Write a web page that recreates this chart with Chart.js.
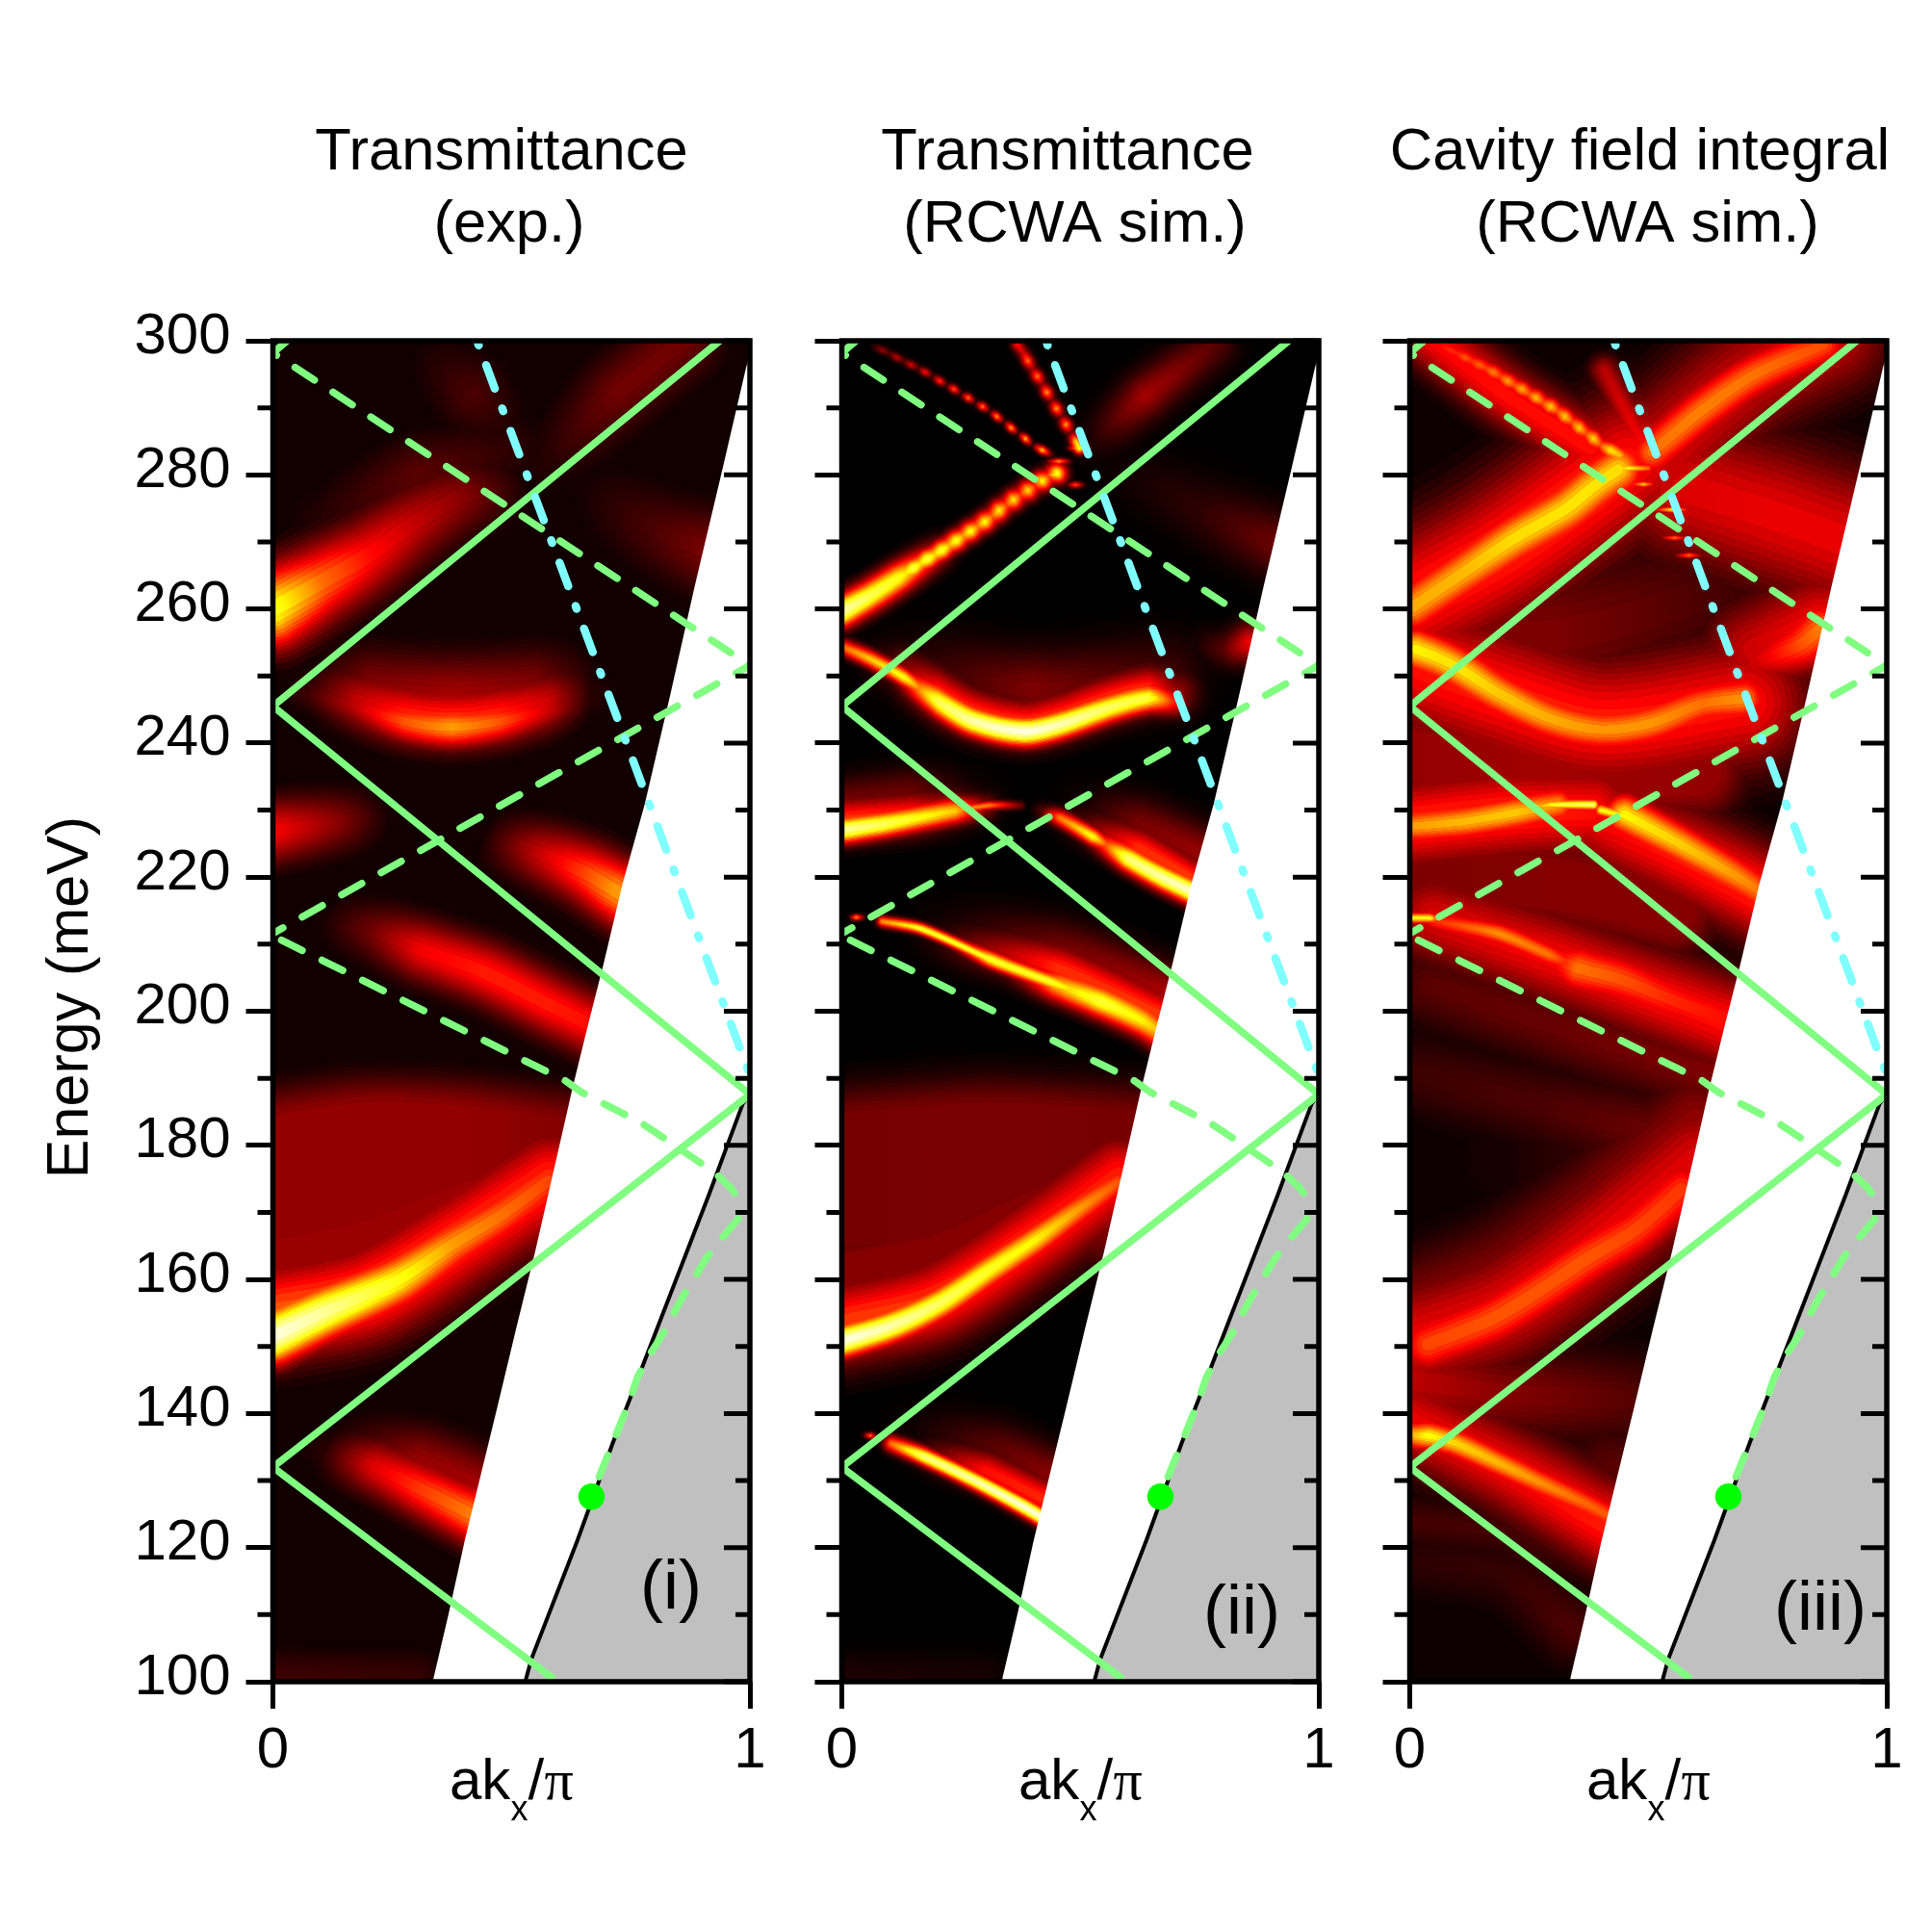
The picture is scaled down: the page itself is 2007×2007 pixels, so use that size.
<!DOCTYPE html>
<html>
<head>
<meta charset="utf-8">
<title>Photonic band maps</title>
<script src="https://cdn.jsdelivr.net/npm/chart.js@4/dist/chart.umd.min.js"></script>
<style>
  html, body { margin: 0; background: #fff; }
  canvas { position: absolute; top: 0; }
</style>
</head>
<body>
<canvas id="p1"></canvas>
<canvas id="p2"></canvas>
<canvas id="p3"></canvas>
<script>
// axis ticks
const energyTicks = [100, 120, 140, 160, 180, 200, 220, 240, 260, 280, 300];
const energyMinor = [110, 130, 150, 170, 190, 210, 230, 250, 270, 290];
const kTicks = [0, 1];

// edge of the measured/simulated map (white wedge starts here)
const mapEdgeK = [0.335, 0.368, 0.402, 0.47, 0.51, 0.55, 0.604, 0.628, 0.659, 0.693, 0.733, 0.78, 0.834, 0.883, 0.943, 0.992, 1];
const mapEdgeE = [100, 110, 121, 140.8, 152.7, 164.2, 181, 188.5, 197.5, 207, 219, 231, 247.5, 263, 281, 296, 298];

// light line, grey below it
const lightK = [0.529, 0.542, 0.638, 0.712, 0.78, 0.847, 0.914, 0.985, 1];
const lightE = [100, 103.4, 121, 135.5, 148, 160.3, 172.6, 186.2, 187.6];

// solid folded bands
const bandAK = [0.937, 0, 1, 0, 0.589];
const bandAE = [300, 245.5, 187.6, 132, 100.4];

// dashed folded bands
const dashUpK = [0.03, 0, 1];
const dashUpE = [300, 298.2, 251.6];
const dashRiseK = [0, 1];
const dashRiseE = [211.6, 251.6];
const dashLowK = [0.018, 0.614, 0.645, 0.773, 0.803, 0.925, 0.958, 0.995];
const dashLowE = [210.6, 189.6, 188, 183.3, 181.9, 176, 173.8, 170.4];
const dashTailK = [0.975, 0.935, 0.907, 0.881, 0.86, 0.836, 0.819, 0.789, 0.765, 0.742, 0.712, 0.679];
const dashTailE = [169, 165.6, 163, 159.9, 157.5, 154.4, 152, 148.7, 145.5, 140.8, 135.5, 129.7];

// cyan line
const cyanK = [0.428, 1];
const cyanE = [300, 190.5];

// green dot
const dotK = [0.668];
const dotE = [127.6];

// ridges of the colour maps: position and brightness (0..1) read along each one
const expRidges = [
  { k: [0, 0.1, 0.2, 0.3, 0.4, 0.45, 0.55], e: [260, 264, 268, 273, 277, 278, 280], v: [0.74, 0.5, 0.36, 0.26, 0.18, 0.12, 0] },
  { k: [0.3, 0.42, 0.52], e: [300, 292, 284], v: [0.02, 0.1, 0.02] },
  { k: [0.58, 0.72, 0.86], e: [282, 292, 300], v: [0.05, 0.15, 0.15] },
  { k: [0.65, 0.8, 0.94], e: [278, 272, 268], v: [0.03, 0.1, 0.18] },
  { k: [0.1, 0.3, 0.5], e: [273, 280, 284], v: [0.05, 0.12, 0.06] },
  { k: [0.073, 0.174, 0.275, 0.376, 0.477, 0.578, 0.666], e: [247.4, 245.5, 243.2, 242.4, 243.2, 245, 246.5], v: [0.08, 0.26, 0.46, 0.56, 0.46, 0.28, 0.05] },
  { k: [0.073, 0.174, 0.275, 0.376, 0.477, 0.578, 0.666], e: [248, 246.3, 244.3, 243.6, 244.3, 246, 247.5], v: [0.05, 0.26, 0.38, 0.4, 0.38, 0.28, 0.05] },
  { k: [0.08, 0.2, 0.38, 0.55, 0.68], e: [249, 248, 247, 248, 249], v: [0.03, 0.18, 0.22, 0.18, 0.03] },
  { k: [0, 0.14, 0.24], e: [226.9, 228.3, 229.3], v: [0.34, 0.18, 0.03] },
  { k: [0.443, 0.544, 0.645, 0.713, 0.74], e: [226.4, 224, 221, 218.2, 217], v: [0.03, 0.24, 0.42, 0.55, 0.56] },
  { k: [0.107, 0.208, 0.309, 0.443, 0.578, 0.68], e: [214, 212, 209.2, 205.8, 201, 197.5], v: [0.03, 0.15, 0.33, 0.38, 0.38, 0.36] },
  { k: [0, 0.107, 0.262, 0.376, 0.477, 0.578], e: [151.5, 155.1, 159.9, 165.2, 169.5, 174.7], v: [1, 0.9, 0.72, 0.56, 0.5, 0.44] },
  { k: [0, 0.2, 0.4, 0.58], e: [155, 158, 166.5, 175], v: [0.46, 0.46, 0.42, 0.4] },
  { k: [0, 0.2, 0.4, 0.6], e: [175, 177, 176.5, 175], v: [0.2, 0.2, 0.2, 0.18] },
  { k: [0, 0.2, 0.42], e: [163, 166, 172], v: [0.21, 0.21, 0.21] },
  { k: [0.107, 0.208, 0.309, 0.43], e: [134.6, 132.2, 128.8, 124.5], v: [0.05, 0.3, 0.42, 0.53] },
  { k: [0.12, 0.3, 0.44], e: [136, 133, 129], v: [0.03, 0.2, 0.22] },
  { k: [0, 0.3], e: [101, 101], v: [0.08, 0.07] }
];
// gaussian half width in px, or [half width, flat half width]
const expSpread = [40, 42, 40, 45, 40, 22, 32, 44, 33, 33, 32, 28, 50, [38, 58], [26, 14], 30, 38, 30];

const simRidges = [
  { k: [0, 0.06, 0.12, 0.2], e: [259.6, 262, 264.7, 268.3], v: [0.92, 0.8, 0.72, 0.3] },
  { k: [0.12, 0.135, 0.15, 0.165, 0.18, 0.195, 0.21, 0.225, 0.24, 0.255, 0.27, 0.285, 0.3, 0.315, 0.33, 0.345, 0.36, 0.375, 0.39, 0.405, 0.42, 0.435, 0.45],
    e: [264.7, 265.4, 266.1, 266.8, 267.5, 268.1, 268.8, 269.5, 270.2, 270.9, 271.6, 272.3, 273, 273.8, 274.7, 275.5, 276.3, 277, 277.7, 278.4, 279.1, 279.7, 280.2],
    v: [0.72, 0.66, 0.78, 0.64, 0.78, 0.62, 0.76, 0.58, 0.74, 0.54, 0.72, 0.5, 0.7, 0.46, 0.68, 0.42, 0.66, 0.4, 0.64, 0.38, 0.7, 0.42, 0.72] },
  { k: [0.07, 0.085, 0.1, 0.115, 0.13, 0.145, 0.16, 0.175, 0.19, 0.205, 0.22, 0.235, 0.25, 0.265, 0.28, 0.295, 0.31, 0.325, 0.34, 0.355, 0.37, 0.385, 0.4, 0.42, 0.44],
    e: [299.1, 298.6, 298.1, 297.5, 297, 296.4, 295.9, 295.3, 294.7, 294, 293.4, 292.8, 292.1, 291.5, 290.8, 290.2, 289.5, 288.7, 287.9, 287, 286.2, 285.4, 284.5, 283.7, 282.9],
    v: [0.08, 0.2, 0.1, 0.26, 0.1, 0.3, 0.1, 0.36, 0.08, 0.42, 0.08, 0.46, 0.06, 0.5, 0.06, 0.52, 0.06, 0.55, 0.06, 0.58, 0.06, 0.6, 0.06, 0.62, 0.1] },
  { k: [0.368, 0.38, 0.39, 0.4, 0.41, 0.42, 0.43, 0.44, 0.45, 0.46, 0.47, 0.48, 0.49, 0.498],
    e: [299.4, 298.2, 297, 295.8, 294.7, 293.5, 292.3, 291.1, 289.9, 288.7, 287.5, 286.3, 285.1, 284],
    v: [0.36, 0.28, 0.48, 0.2, 0.5, 0.18, 0.55, 0.15, 0.55, 0.15, 0.55, 0.15, 0.62, 0.72] },
  { k: [0.426, 0.455, 0.483], e: [282, 282, 282], v: [0.05, 0.55, 0.05] },
  { k: [0.41, 0.445, 0.476], e: [280, 280, 280], v: [0.05, 0.7, 0.05] },
  { k: [0.47, 0.49, 0.51], e: [278.5, 278.5, 278.5], v: [0.05, 0.45, 0.05] },
  { k: [0.47, 0.5, 0.525], e: [284, 284, 284], v: [0.05, 0.78, 0.05] },
  { k: [0.527, 0.635, 0.779], e: [284.7, 291.7, 299.4], v: [0.04, 0.22, 0.12] },
  { k: [0.585, 0.75, 0.9], e: [281, 275, 270], v: [0.02, 0.06, 0.14] },
  { k: [0.743, 0.801, 0.851], e: [254.6, 254, 255], v: [0.03, 0.12, 0.32] },
  { k: [0.007, 0.058, 0.13, 0.2], e: [254.2, 252.6, 249.8, 246.2], v: [0.5, 0.62, 0.72, 0.3] },
  { k: [0.1, 0.202, 0.274, 0.382, 0.455, 0.563, 0.642, 0.693], e: [251, 246.2, 243.3, 241.7, 242.7, 245.3, 246.7, 246.2], v: [0.1, 0.8, 0.92, 1, 0.94, 0.82, 0.77, 0.4] },
  { k: [0.1, 0.2, 0.274, 0.382, 0.455, 0.563, 0.642, 0.7], e: [251.5, 247.2, 244.5, 242.9, 243.9, 246.5, 247.8, 247.5], v: [0.1, 0.42, 0.42, 0.42, 0.42, 0.42, 0.42, 0.2] },
  { k: [0.12, 0.4, 0.68], e: [252, 248, 250.5], v: [0.03, 0.17, 0.08] },
  { k: [0, 0.094, 0.238, 0.3], e: [227, 228, 229.9, 230.5], v: [0.9, 0.8, 0.62, 0.2] },
  { k: [0.2, 0.31, 0.375], e: [229.4, 230.7, 230.7], v: [0.6, 0.52, 0.15] },
  { k: [0, 0.15, 0.3], e: [228.5, 229.5, 231], v: [0.42, 0.38, 0.05] },
  { k: [0, 0.15, 0.28], e: [231, 232.5, 233], v: [0.16, 0.14, 0.02] },
  { k: [0.419, 0.455, 0.527, 0.58], e: [229.9, 228.9, 226, 223.7], v: [0.1, 0.5, 0.72, 0.2] },
  { k: [0.5, 0.56, 0.6, 0.671, 0.735], e: [227.2, 224.6, 222.8, 220, 217.8], v: [0.05, 0.5, 0.85, 0.92, 0.96] },
  { k: [0.5, 0.62, 0.74], e: [228, 224.5, 219.5], v: [0.1, 0.4, 0.42] },
  { k: [0.5, 0.62, 0.74], e: [231, 228, 224], v: [0.02, 0.16, 0.2] },
  { k: [0.015, 0.03, 0.05], e: [214, 214, 214], v: [0.05, 0.55, 0.05] },
  { k: [0.085, 0.166, 0.31, 0.4], e: [213.4, 212.3, 207.8, 205], v: [0.55, 0.75, 0.74, 0.2] },
  { k: [0.2, 0.31, 0.441, 0.542], e: [211.5, 207.8, 204.3, 201.5], v: [0.06, 0.74, 0.74, 0.5] },
  { k: [0.33, 0.39, 0.45, 0.542, 0.63, 0.68], e: [207.2, 205.6, 204, 201.5, 198.6, 196.2], v: [0.05, 0.3, 0.6, 0.76, 0.68, 0.56] },
  { k: [0.2, 0.45, 0.68], e: [211, 206.5, 199], v: [0.05, 0.4, 0.42] },
  { k: [0.2, 0.45, 0.67], e: [213, 209.5, 203], v: [0.02, 0.15, 0.22] },
  { k: [0, 0.105, 0.206, 0.307, 0.408, 0.495, 0.58], e: [150.8, 153.1, 156.5, 161.3, 166, 170.4, 174.5], v: [1, 0.92, 0.82, 0.74, 0.68, 0.56, 0.46] },
  { k: [0, 0.2, 0.4, 0.58], e: [153.5, 157, 166, 175.5], v: [0.42, 0.42, 0.4, 0.38] },
  { k: [0, 0.3, 0.6], e: [175, 176.5, 175.5], v: [0.16, 0.165, 0.16] },
  { k: [0, 0.2, 0.42], e: [161, 164, 171], v: [0.18, 0.18, 0.18] },
  { k: [0.105, 0.172, 0.273, 0.374, 0.42], e: [135.5, 133.6, 130.2, 126.4, 124.5], v: [0.5, 0.85, 0.92, 0.98, 0.98] },
  { k: [0.044, 0.06, 0.075], e: [136.8, 136.7, 136.6], v: [0.05, 0.5, 0.05] },
  { k: [0.15, 0.3, 0.43], e: [135, 131.5, 127], v: [0.03, 0.36, 0.4] },
  { k: [0.15, 0.32, 0.43], e: [138, 135, 131], v: [0.02, 0.12, 0.18] },
  { k: [0, 0.3], e: [101, 101], v: [0.04, 0.03] }
];
const simSpread = [16, 11, 4.5, 6.5, 3.5, 3.5, 3.5, 3.5, 24, 34, 20, 9, 15, 24, 40, 14, 5, 22, 26, 9, 13, 20, 28, 3.5, 6, 9, 17, 24, 30, 17, 42, [36, 62], [24, 14], 9, 3.5, 20, 28, 24];

const fieldRidges = [
  { k: [0.006, 0.114, 0.221, 0.329, 0.386, 0.437], e: [260.3, 265.5, 270.6, 275, 278.3, 280.8], v: [0.58, 0.6, 0.65, 0.66, 0.66, 0.65] },
  { k: [0, 0.2, 0.38, 0.46], e: [261, 269, 278, 282], v: [0.38, 0.4, 0.4, 0.36] },
  { k: [0.07, 0.085, 0.1, 0.115, 0.13, 0.145, 0.16, 0.175, 0.19, 0.205, 0.22, 0.235, 0.25, 0.265, 0.28, 0.295, 0.31, 0.325, 0.34, 0.355, 0.37, 0.385, 0.4, 0.42, 0.44],
    e: [299.1, 298.6, 298.1, 297.5, 297, 296.4, 295.9, 295.3, 294.7, 294, 293.4, 292.8, 292.1, 291.5, 290.8, 290.2, 289.5, 288.7, 287.9, 287, 286.2, 285.4, 284.5, 283.7, 282.9],
    v: [0.36, 0.4, 0.38, 0.46, 0.4, 0.48, 0.42, 0.52, 0.42, 0.56, 0.44, 0.58, 0.44, 0.6, 0.44, 0.62, 0.44, 0.62, 0.44, 0.62, 0.44, 0.64, 0.44, 0.66, 0.6] },
  { k: [0.05, 0.2, 0.38], e: [300, 292, 284], v: [0.34, 0.36, 0.36] },
  { k: [0.408, 0.487], e: [295.6, 284.7], v: [0.25, 0.34] },
  { k: [0.508, 0.616, 0.724, 0.867], e: [283.4, 289.8, 295, 299.4], v: [0.5, 0.52, 0.5, 0.45] },
  { k: [0.52, 0.7, 0.88], e: [283, 294, 301], v: [0.3, 0.28, 0.28] },
  { k: [0.58, 0.76, 0.92], e: [278, 274, 270], v: [0.3, 0.32, 0.32] },
  { k: [0, 0.3, 0.62], e: [257, 256, 262], v: [0.17, 0.17, 0.1] },
  { k: [0.724, 0.817, 0.86], e: [252, 254.6, 257], v: [0.28, 0.45, 0.52] },
  { k: [0.72, 0.86], e: [254, 258], v: [0.28, 0.34] },
  { k: [0.013, 0.063, 0.114, 0.185, 0.293, 0.4, 0.508, 0.616, 0.7], e: [254, 252.6, 250.7, 247.5, 243.7, 242, 243, 245.9, 246.6], v: [0.68, 0.66, 0.66, 0.62, 0.58, 0.55, 0.55, 0.5, 0.55] },
  { k: [0, 0.2, 0.4, 0.7], e: [252, 247, 243, 246], v: [0.36, 0.38, 0.38, 0.36] },
  { k: [0.006, 0.114, 0.221, 0.31], e: [227.6, 228.3, 229.6, 230.8], v: [0.56, 0.6, 0.62, 0.55] },
  { k: [0.24, 0.3, 0.385], e: [230.3, 230.8, 230.8], v: [0.4, 0.72, 0.84] },
  { k: [0, 0.2, 0.38], e: [228, 229.5, 230], v: [0.4, 0.4, 0.36] },
  { k: [0.401, 0.473], e: [230, 228.6], v: [0.72, 0.68] },
  { k: [0.45, 0.58, 0.688, 0.74], e: [229.4, 224.4, 220, 217.6], v: [0.68, 0.62, 0.55, 0.5] },
  { k: [0.42, 0.58, 0.75], e: [228, 223, 217], v: [0.34, 0.38, 0.4] },
  { k: [0.006, 0.042, 0.06], e: [213.9, 213.9, 213.7], v: [0.72, 0.72, 0.4] },
  { k: [0.05, 0.185, 0.293, 0.36], e: [213.5, 211.6, 208.4, 206.2], v: [0.4, 0.54, 0.5, 0.3] },
  { k: [0.25, 0.35, 0.441, 0.542, 0.67], e: [209.5, 206.5, 204.8, 201.9, 198.5], v: [0.1, 0.5, 0.46, 0.4, 0.36] },
  { k: [0.05, 0.3, 0.68], e: [214, 208, 198], v: [0.3, 0.34, 0.36] },
  { k: [0.04, 0.3, 0.66], e: [204, 198, 190], v: [0.12, 0.14, 0.17] },
  { k: [0, 0.28, 0.6], e: [191, 186, 180], v: [0.08, 0.1, 0.16] },
  { k: [0.037, 0.172, 0.273, 0.374, 0.475, 0.57], e: [150.3, 154.1, 158.4, 163.2, 167.5, 173.5], v: [0.44, 0.46, 0.46, 0.46, 0.44, 0.42] },
  { k: [0, 0.2, 0.4, 0.6], e: [151, 156, 166, 178], v: [0.32, 0.32, 0.32, 0.3] },
  { k: [0, 0.2, 0.4, 0.6], e: [156, 162, 172, 184], v: [0.17, 0.17, 0.18, 0.19] },
  { k: [0.01, 0.037, 0.091, 0.172, 0.273, 0.374, 0.42], e: [136.8, 136.7, 135.7, 133.1, 129.7, 126.4, 124.6], v: [0.6, 0.7, 0.64, 0.6, 0.54, 0.48, 0.46] },
  { k: [0, 0.2, 0.42], e: [139, 132, 123], v: [0.32, 0.34, 0.38] },
  { k: [0, 0.2, 0.45], e: [145, 143, 142], v: [0.26, 0.18, 0.12] },
  { k: [0.02, 0.2, 0.34], e: [118, 116, 108], v: [0.06, 0.07, 0.1] },
  { k: [0.25, 0.34, 0.42], e: [122, 122, 132], v: [0.09, 0.12, 0.12] },
  { k: [0, 0.25], e: [124, 122], v: [0.09, 0.09] },
  { k: [0.2, 0.45, 0.62], e: [178, 178, 178], v: [0.03, 0.09, 0.17] },
  { k: [0, 0.3, 0.6], e: [238, 236, 236], v: [0.2, 0.22, 0.2] },
  { k: [0, 0.3, 0.55], e: [220, 219, 215], v: [0.17, 0.18, 0.18] },
  { k: [0.5, 0.55, 0.6], e: [274.8, 274.8, 274.8], v: [0.1, 0.72, 0.1] },
  { k: [0.52, 0.555, 0.59], e: [270.6, 270.6, 270.6], v: [0.1, 0.5, 0.1] },
  { k: [0.55, 0.585, 0.62], e: [268, 268, 268], v: [0.1, 0.5, 0.1] },
  { k: [0.45, 0.49, 0.525], e: [278.6, 278.6, 278.6], v: [0.1, 0.66, 0.1] },
  { k: [0.42, 0.46, 0.5], e: [281, 281, 281], v: [0.5, 0.72, 0.5] }
];
const fieldSpread = [28, 70, 10, 32, 16, 26, 62, 76, 84, 30, 54, 24, 68, 20, 6, 48, 7, 22, 48, 6, 13, 28, 48, 46, 46, 32, 60, 54, 16, 46, 52, 40, 50, 30, [40, 20], [36, 20], [34, 20], 3.5, 3.5, 3.5, 3.5, 5];

// titles and panel labels
const panelTitles = [['Transmittance', '(exp.)'], ['Transmittance', '(RCWA sim.)'], ['Cavity field integral', '(RCWA sim.)']];
const panelNames = ['(i)', '(ii)', '(iii)'];

const FONT = '"Liberation Sans", Arial, sans-serif';
const GREEN = '#80ff80';
const CYAN = '#80ffff';
const LEVELS = [0.04, 0.08, 0.13, 0.18, 0.24, 0.3, 0.36, 0.43, 0.5, 0.57, 0.64, 0.72, 0.8, 0.88, 0.96];

const pairs = (ks, es) => ks.map((k, i) => ({ x: k, y: es[i] }));

function hot(t) {
  const c = (v) => Math.round(255 * Math.max(0, Math.min(1, v)));
  return `rgb(${c(t * 3)},${c(t * 3 - 1)},${c(t * 3 - 2)})`;
}

// colour along a ridge: gradient stops follow the colour map between read points
function ridgeStroke(chart, r, f) {
  if (!chart.chartArea) return '#000';
  const xs = r.k.map((k) => chart.scales.x.getPixelForValue(k));
  const ys = r.e.map((e) => chart.scales.y.getPixelForValue(e));
  const n = xs.length - 1;
  const dx = xs[n] - xs[0], dy = ys[n] - ys[0];
  const len = dx * dx + dy * dy;
  const g = chart.ctx.createLinearGradient(xs[0], ys[0], xs[n], ys[n]);
  const off = xs.map((x, i) => Math.max(0, Math.min(1, ((x - xs[0]) * dx + (ys[i] - ys[0]) * dy) / len)));
  for (let i = 0; i < n; i++) {
    for (let s = 0; s < 8; s++) {
      const u = s / 8;
      g.addColorStop(off[i] + (off[i + 1] - off[i]) * u, hot((r.v[i] + (r.v[i + 1] - r.v[i]) * u) * f));
    }
  }
  g.addColorStop(off[n], hot(r.v[n] * f));
  return g;
}

function heatDatasets(ridges, spread) {
  return ridges.flatMap((r, i) => LEVELS.map((f) => {
    const [w, flat] = [].concat(spread[i], 0);
    return {
      heat: true,
      order: 100,
      clip: 0,
      data: pairs(r.k, r.e),
      tension: 0.3,
      pointRadius: 0,
      borderCapStyle: 'round',
      borderJoinStyle: 'round',
      borderWidth: 2 * (flat + w * Math.sqrt(-Math.log(f))),
      borderColor: (c) => ridgeStroke(c.chart, r, f)
    };
  }));
}

function overlayDatasets() {
  const line = (ks, es, color, width, dash, offset, order) => ({
    order, clip: 0, data: pairs(ks, es), tension: 0, pointRadius: 0,
    borderColor: color, borderWidth: width, borderDash: dash || [], borderDashOffset: offset || 0,
    borderCapStyle: dash ? 'round' : 'butt', borderJoinStyle: 'round', fill: false
  });
  return [
    { order: 50, clip: 0, data: pairs(mapEdgeK, mapEdgeE), tension: 0, pointRadius: 0, borderWidth: 0, borderColor: '#fff', backgroundColor: '#fff', fill: 'start' },
    { order: 40, clip: 0, data: pairs(lightK, lightE), tension: 0, pointRadius: 0, borderWidth: 4, borderColor: '#000', backgroundColor: '#c0c0c0', fill: 'start' },
    line(dashUpK, dashUpE, GREEN, 7.5, [24, 23], 0, 30),
    line(dashRiseK, dashRiseE, GREEN, 7.5, [24, 23], 12, 30),
    line(dashLowK, dashLowE, GREEN, 7.5, [24, 23], 0, 30),
    line(dashTailK, dashTailE, GREEN, 7.5, [24, 23], 0, 30),
    line(bandAK, bandAE, GREEN, 7.5, null, 0, 29),
    line(cyanK, cyanE, CYAN, 8.5, [26, 22, 3, 22], 46, 20),
    { order: 10, clip: false, data: pairs(dotK, dotE), showLine: false, pointRadius: 13.7, pointBackgroundColor: '#00ff00', pointBorderWidth: 0 }
  ];
}

// lighten keeps the brightest ridge at each pixel, like a max of the field
const lightenHeat = {
  id: 'lightenHeat',
  beforeDatasetsDraw(chart) {
    const a = chart.chartArea;
    chart.ctx.fillStyle = chart.options.plugins.lightenHeat.base;
    chart.ctx.fillRect(a.left, a.top, a.right - a.left, a.bottom - a.top);
  },
  beforeDatasetDraw(chart, args) {
    if (chart.data.datasets[args.index].heat) chart.ctx.globalCompositeOperation = 'lighten';
  },
  afterDatasetDraw(chart) {
    chart.ctx.globalCompositeOperation = 'source-over';
  }
};

// frame, minor ticks and the inward ticks on the right side
const frameTicks = {
  id: 'frameTicks',
  afterDatasetsDraw(chart) {
    const { ctx, chartArea: a, scales: { y } } = chart;
    ctx.save();
    ctx.strokeStyle = '#000';
    ctx.lineWidth = 5.5;
    ctx.strokeRect(a.left, a.top, a.right - a.left, a.bottom - a.top);
    ctx.lineWidth = 5;
    ctx.beginPath();
    energyTicks.forEach((e) => {
      const p = y.getPixelForValue(e);
      ctx.moveTo(a.right - 27, p);
      ctx.lineTo(a.right, p);
    });
    energyMinor.forEach((e) => {
      const p = y.getPixelForValue(e);
      ctx.moveTo(a.left - 16, p);
      ctx.lineTo(a.left, p);
      ctx.moveTo(a.right - 15, p);
      ctx.lineTo(a.right, p);
    });
    ctx.stroke();
    ctx.restore();
  }
};

const panelText = {
  id: 'panelText',
  afterDraw(chart) {
    const { ctx, chartArea: a } = chart;
    const o = chart.options.plugins.panelText;
    ctx.save();
    ctx.fillStyle = '#000';
    ctx.textBaseline = 'alphabetic';
    ctx.textAlign = 'center';
    ctx.font = `61.5px ${FONT}`;
    ctx.fillText(o.title[0], o.titleX[0], 176);
    ctx.fillText(o.title[1], o.titleX[1], 251);
    ctx.font = `72px ${FONT}`;
    ctx.fillText(o.name, o.nameX, o.nameY);
    ctx.textAlign = 'left';
    ctx.font = `60px ${FONT}`;
    ctx.fillText('ak', a.left + 183.5, 1869);
    ctx.fillText('/', a.left + 265, 1869);
    ctx.font = '36px ' + FONT;
    ctx.fillText('x', a.left + 247, 1891);
    ctx.font = '60px "Liberation Serif", serif';
    ctx.fillText('\u03c0', a.left + 282, 1869);
    if (o.yTitle) {
      ctx.translate(91, 1036);
      ctx.rotate(-Math.PI / 2);
      ctx.textAlign = 'center';
      ctx.font = `61px ${FONT}`;
      ctx.fillText('Energy (meV)', 0, 0);
    }
    ctx.restore();
  }
};

function makePanel(id, canvasLeft, areaLeft, ridges, spread, base, text) {
  const canvas = document.getElementById(id);
  const canvasW = Math.ceil(areaLeft - canvasLeft + 495.5 + 48);
  canvas.width = canvasW;
  canvas.height = 2007;
  canvas.style.left = canvasLeft + 'px';
  const leftW = areaLeft - canvasLeft;
  const tickFont = { family: FONT, size: 60 };
  return new Chart(canvas, {
    type: 'line',
    data: { datasets: overlayDatasets().concat(heatDatasets(ridges, spread)) },
    options: {
      responsive: false,
      animation: false,
      devicePixelRatio: 1,
      events: [],
      layout: { autoPadding: false, padding: { left: 0, top: 354, right: canvasW - leftW - 495.5, bottom: 0 } },
      plugins: {
        legend: { display: false },
        tooltip: { enabled: false },
        lightenHeat: { base },
        panelText: text
      },
      scales: {
        x: {
          type: 'linear', min: kTicks[0], max: kTicks[1],
          border: { display: false },
          grid: { drawOnChartArea: false, tickLength: 28, tickWidth: 5, tickColor: '#000' },
          ticks: { stepSize: 1, maxRotation: 0, color: '#000', font: tickFont, padding: 8, callback: (v) => v },
          afterFit: (s) => { s.height = 2007 - 1747; }
        },
        y: {
          type: 'linear', min: energyTicks[0], max: energyTicks[10],
          border: { display: false },
          grid: { drawOnChartArea: false, tickLength: 28, tickWidth: 5, tickColor: '#000' },
          ticks: {
            stepSize: 20, color: '#000', font: tickFont, padding: 16, labelOffset: -4,
            callback: (v) => (text.yTitle ? v : '')
          },
          afterFit: (s) => { s.width = leftW; }
        }
      }
    },
    plugins: [lightenHeat, frameTicks, panelText]
  });
}

makePanel('p1', 0, 283.5, expRidges, expSpread, '#120000', {
  title: panelTitles[0], titleX: [521, 529], name: panelNames[0], nameX: 697, nameY: 1671, yTitle: true
});
makePanel('p2', 820, 874.5, simRidges, simSpread, '#000000', {
  title: panelTitles[1], titleX: [1109 - 820, 1116.5 - 820], name: panelNames[1], nameX: 1290 - 820, nameY: 1697
});
makePanel('p3', 1410, 1464.5, fieldRidges, fieldSpread, '#0c0000', {
  title: panelTitles[2], titleX: [1703.5 - 1410, 1711.5 - 1410], name: panelNames[2], nameX: 1891 - 1410, nameY: 1693
});
</script>
</body>
</html>
